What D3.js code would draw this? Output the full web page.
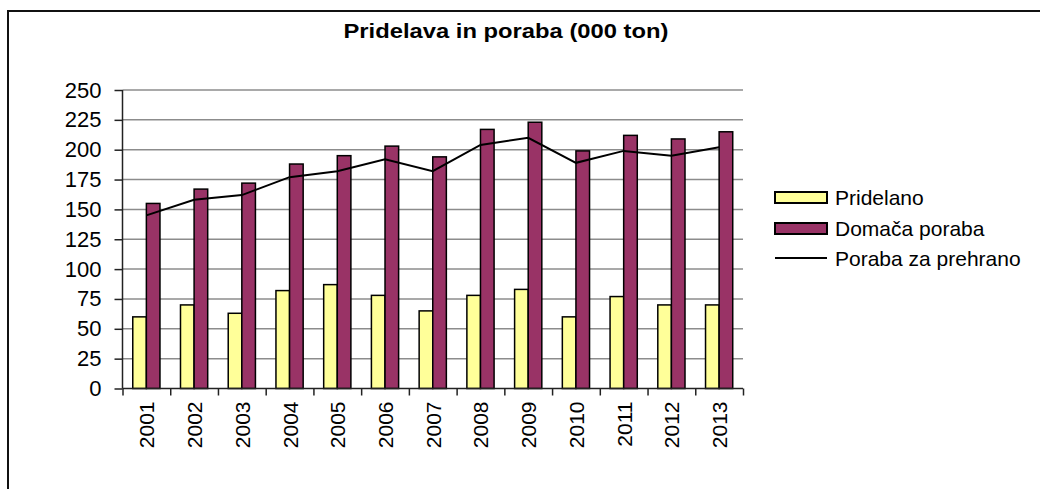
<!DOCTYPE html>
<html>
<head>
<meta charset="utf-8">
<script src="https://cdn.jsdelivr.net/npm/d3@7"></script>
<style>
  body { margin: 0; background: #fff; }
  text { font-family: "Liberation Sans", Arial, sans-serif; }
</style>
</head>
<body>
<div id="chart"></div>
<script>
// data
var years = ["2001","2002","2003","2004","2005","2006","2007","2008","2009","2010","2011","2012","2013"];
var pridelano = [60, 70, 63, 82, 87, 78, 65, 78, 83, 60, 77, 70, 70];
var domacaPoraba = [155, 167, 172, 188, 195, 203, 194, 217, 223, 199, 212, 209, 215];
var porabaPrehrana = [145, 158, 162, 177, 182, 192, 182, 204, 210, 189, 199, 195, 202];
var yTicks = [0, 25, 50, 75, 100, 125, 150, 175, 200, 225, 250];
var seriesNames = ["Pridelano", "Domača poraba", "Poraba za prehrano"];

var width = 1040,
    height = 489;
var plot = {left: 122.5, right: 743, top: 90, bottom: 388.5};

var svg = d3.select("#chart")
  .append("svg")
    .attr("width", width)
    .attr("height", height);

// outer frame
svg.append("rect")
  .attr("x", 8).attr("y", 11)
  .attr("width", width + 10).attr("height", height + 10)
  .attr("fill", "none")
  .attr("stroke", "#111")
  .attr("stroke-width", 2);

svg.append("text")
  .attr("x", 506).attr("y", 38)
  .attr("text-anchor", "middle")
  .attr("textLength", 325)
  .attr("lengthAdjust", "spacingAndGlyphs")
  .style("font-size", "21px")
  .style("font-weight", "bold")
  .text("Pridelava in poraba (000 ton)");

var x = d3.scaleBand()
  .domain(years)
  .range([plot.left, plot.right])
  .paddingInner(0.43)
  .paddingOuter(0.215);

var xSub = d3.scaleBand()
  .domain([0, 1])
  .range([0, x.bandwidth()]);

var xEdge = d3.scaleLinear()
  .domain([0, years.length])
  .range([plot.left, plot.right]);

var y = d3.scaleLinear()
  .domain([0, 250])
  .range([plot.bottom, plot.top]);

// gridlines
svg.append("g")
  .selectAll("line")
  .data(yTicks.filter(d => d > 0))
  .enter()
  .append("line")
    .attr("x1", plot.left).attr("x2", plot.right)
    .attr("y1", d => y(d)).attr("y2", d => y(d))
    .attr("stroke", "#8c8c8c")
    .attr("stroke-width", 1.5);

// y axis
var yAxis = svg.append("g")
  .attr("transform", "translate(" + plot.left + ",0)")
  .call(d3.axisLeft(y).tickValues(yTicks).tickSize(8).tickPadding(13));
yAxis.selectAll("text").style("font-size", "22px").attr("fill", "#000");
yAxis.selectAll("line, path").attr("stroke", "#222").attr("stroke-width", 1.5);
yAxis.select(".domain").attr("d", "M0," + plot.top + "V" + plot.bottom);

// bars
var groups = svg.append("g")
  .selectAll("g")
  .data(years)
  .enter()
  .append("g")
    .attr("transform", d => "translate(" + x(d) + ",0)");

groups.append("rect")
  .attr("x", xSub(0))
  .attr("width", xSub.bandwidth())
  .attr("y", (d, i) => y(pridelano[i]))
  .attr("height", (d, i) => y(0) - y(pridelano[i]))
  .attr("fill", "#ffff99")
  .attr("stroke", "#000")
  .attr("stroke-width", 1.5);

groups.append("rect")
  .attr("x", xSub(1))
  .attr("width", xSub.bandwidth())
  .attr("y", (d, i) => y(domacaPoraba[i]))
  .attr("height", (d, i) => y(0) - y(domacaPoraba[i]))
  .attr("fill", "#993366")
  .attr("stroke", "#000")
  .attr("stroke-width", 1.5);

// line
var line = d3.line()
  .x((d, i) => x(years[i]) + x.bandwidth() / 2)
  .y(d => y(d));

svg.append("path")
  .datum(porabaPrehrana)
  .attr("d", line)
  .attr("fill", "none")
  .attr("stroke", "#000")
  .attr("stroke-width", 2);

// x axis, ticks between categories
var xAxis = svg.append("g")
  .attr("transform", "translate(0," + plot.bottom + ")")
  .call(d3.axisBottom(xEdge).tickValues(d3.range(years.length + 1)).tickSize(7).tickFormat(""));
xAxis.selectAll("line, path").attr("stroke", "#222").attr("stroke-width", 1.5);
xAxis.select(".domain").attr("d", "M" + plot.left + ",0H" + plot.right);

svg.append("g")
  .selectAll("text")
  .data(years)
  .enter()
  .append("text")
    .attr("transform", d => "translate(" + (x(d) + x.bandwidth() / 2 + 8) + "," + (plot.bottom + 13) + ") rotate(-90)")
    .attr("text-anchor", "end")
    .style("font-size", "21px")
    .text(d => d);

// legend
var legend = svg.append("g").attr("transform", "translate(775,0)");
var legendY = [198, 229, 259];

legend.append("rect")
  .attr("x", 0).attr("y", legendY[0] - 6)
  .attr("width", 52).attr("height", 11)
  .attr("fill", "#ffff99").attr("stroke", "#000").attr("stroke-width", 2);
legend.append("rect")
  .attr("x", 0).attr("y", legendY[1] - 6)
  .attr("width", 52).attr("height", 11)
  .attr("fill", "#993366").attr("stroke", "#000").attr("stroke-width", 2);
legend.append("line")
  .attr("x1", 0).attr("x2", 52)
  .attr("y1", legendY[2] - 1).attr("y2", legendY[2] - 1)
  .attr("stroke", "#000").attr("stroke-width", 2);

legend.selectAll("text.lbl")
  .data(seriesNames)
  .enter()
  .append("text")
    .attr("class", "lbl")
    .attr("x", 60)
    .attr("y", (d, i) => legendY[i] + 7)
    .style("font-size", "21px")
    .text(d => d);
</script>
</body>
</html>
